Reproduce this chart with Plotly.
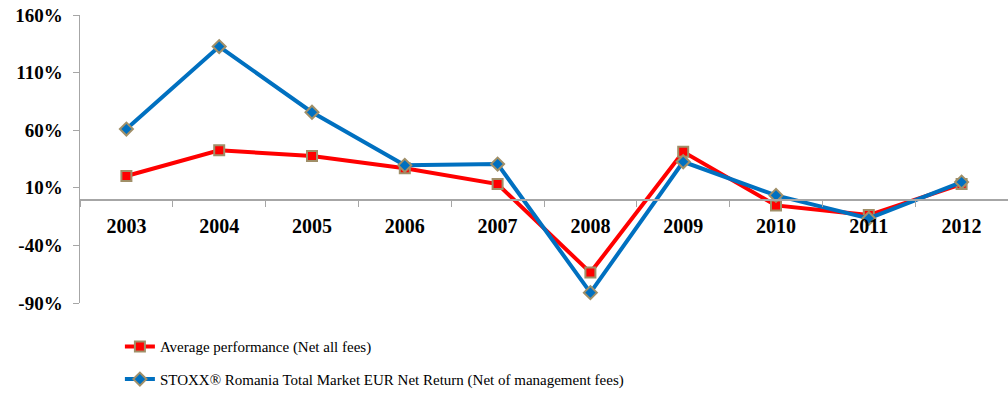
import plotly.graph_objects as go

years = ["2003", "2004", "2005", "2006", "2007", "2008", "2009", "2010", "2011", "2012"]
avg_perf = [20.2, 42.5, 37.6, 26.9, 13.2, -63.6, 41.3, -5.3, -13.7, 13.2]
stoxx = [61.0, 132.6, 75.6, 29.5, 30.6, -81.0, 32.6, 3.4, -16.6, 15.0]
y_ticks = [-90, -40, 10, 60, 110, 160]
y_tick_text = ["-90%", "-40%", "10%", "60%", "110%", "160%"]

FONT = "Liberation Serif"
BORDER = "#A08F68"

fig = go.Figure()
fig.add_trace(go.Scatter(
    x=years, y=avg_perf, mode="lines+markers",
    name="Average performance (Net all fees)",
    line=dict(color="#FF0000", width=4),
    marker=dict(symbol="square", size=10, color="#FF0000", line=dict(color=BORDER, width=2)),
    legendgroup="a",
))
fig.add_trace(go.Scatter(
    x=years, y=stoxx, mode="lines+markers",
    name="STOXX® Romania Total Market EUR Net Return (Net of management fees)",
    line=dict(color="#0070C0", width=4),
    marker=dict(symbol="diamond", size=10, color="#0070C0", line=dict(color=BORDER, width=2)),
    legendgroup="b",
))

fig.update_layout(
    width=1008, height=402,
    margin=dict(l=80, r=0, t=15, b=99, autoexpand=False),
    paper_bgcolor="white", plot_bgcolor="white",
    font=dict(family=FONT, size=18, color="black"),
    showlegend=True,
    legend=dict(
        x=0.043, xanchor="left", y=-0.095, yanchor="top",
        traceorder="grouped", tracegroupgap=10,
        font=dict(family=FONT, size=15, color="black"),
        bgcolor="rgba(0,0,0,0)", itemwidth=30,
    ),
    xaxis=dict(
        type="category", range=[-0.5, 9.5],
        anchor="free", position=90 / 250,
        showline=True, linecolor="#A6A6A6", linewidth=1.5,
        ticks="outside", tickson="boundaries", ticklen=6, tickcolor="#A6A6A6",
        showgrid=False, zeroline=False,
        tickfont=dict(family=FONT, size=20, color="black", weight="bold"),
        ticklabelstandoff=8,
    ),
    yaxis=dict(
        range=[-90, 160], domain=[0, 1],
        tickvals=y_ticks, ticktext=y_tick_text,
        showline=True, linecolor="#A6A6A6", linewidth=1.5,
        ticks="outside", ticklen=6, tickcolor="#A6A6A6",
        showgrid=False, zeroline=False,
        tickfont=dict(family=FONT, size=19, color="black", weight="bold"),
        ticklabelstandoff=6,
    ),
)

fig.write_html(
    "out.html",
    config={"displayModeBar": False, "staticPlot": True},
    post_script="document.body.style.margin='0';",
)
